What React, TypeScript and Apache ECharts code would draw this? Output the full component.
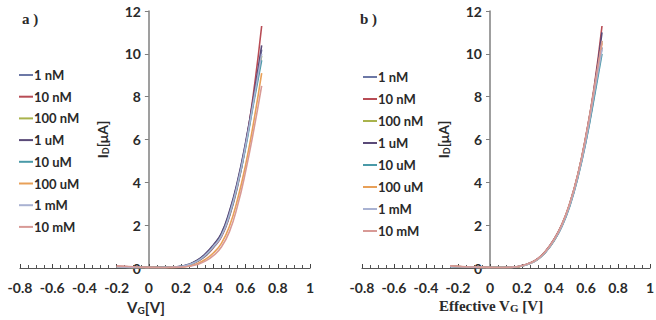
import React, { useEffect, useRef } from "react";
import * as echarts from "echarts";

const seriesNames = ["1 nM", "10 nM", "100 nM", "1 uM", "10 uM", "100 uM", "1 mM", "10 mM"];
const seriesColors = ["#6c78a6", "#b84c55", "#a9b34c", "#5a4a78", "#4a9aa8", "#e8a058", "#a9b2d2", "#d89a96"];

// Panel a: gate voltage V_G [V]
const vgA = [-0.2, -0.1, 0, 0.1, 0.2, 0.25, 0.3, 0.35, 0.4, 0.45, 0.5, 0.55, 0.6, 0.65, 0.7];
const idA_1nM = [0.05, 0.03, 0.02, 0.03, 0.08, 0.18, 0.35, 0.65, 1.05, 1.6, 2.6, 4.0, 5.8, 7.9, 10.2];
const idA_10nM = [0.08, 0.05, 0.03, 0.03, 0.06, 0.14, 0.3, 0.55, 0.95, 1.45, 2.4, 3.8, 5.7, 8.2, 11.3];
const idA_100nM = [0.05, 0.03, 0.02, 0.03, 0.07, 0.16, 0.33, 0.6, 1.0, 1.55, 2.5, 3.9, 5.7, 7.8, 9.9];
const idA_1uM = [0.05, 0.03, 0.02, 0.03, 0.08, 0.18, 0.36, 0.66, 1.08, 1.62, 2.65, 4.05, 5.85, 8.0, 10.4];
const idA_10uM = [0.04, 0.03, 0.02, 0.03, 0.07, 0.15, 0.32, 0.58, 0.98, 1.5, 2.45, 3.85, 5.6, 7.7, 9.7];
const idA_100uM = [0.05, 0.03, 0.02, 0.02, 0.05, 0.1, 0.2, 0.4, 0.7, 1.15, 1.95, 3.2, 4.8, 6.8, 9.1];
const idA_1mM = [0.05, 0.03, 0.02, 0.03, 0.07, 0.16, 0.32, 0.6, 1.0, 1.5, 2.5, 3.9, 5.7, 7.8, 10.0];
const idA_10mM = [0.1, 0.06, 0.03, 0.02, 0.04, 0.08, 0.16, 0.32, 0.58, 0.98, 1.7, 2.9, 4.5, 6.4, 8.5];

// Panel b: effective gate voltage [V]
const vgB = [-0.25, -0.15, -0.05, 0.05, 0.15, 0.2, 0.25, 0.3, 0.35, 0.4, 0.45, 0.5, 0.55, 0.6, 0.65, 0.7];
const idB_1nM = [0.07, 0.05, 0.03, 0.02, 0.04, 0.1, 0.22, 0.42, 0.77, 1.28, 1.97, 2.95, 4.28, 5.95, 8.0, 10.3];
const idB_10nM = [0.09, 0.05, 0.03, 0.02, 0.04, 0.11, 0.24, 0.45, 0.82, 1.35, 2.05, 3.05, 4.4, 6.2, 8.4, 11.3];
const idB_100nM = [0.08, 0.05, 0.03, 0.02, 0.04, 0.1, 0.22, 0.42, 0.78, 1.3, 2.0, 3.0, 4.35, 6.1, 8.2, 10.6];
const idB_1uM = [0.08, 0.05, 0.03, 0.02, 0.04, 0.11, 0.23, 0.44, 0.8, 1.33, 2.03, 3.03, 4.38, 6.15, 8.3, 11.0];
const idB_10uM = [0.07, 0.04, 0.03, 0.02, 0.04, 0.1, 0.21, 0.41, 0.76, 1.27, 1.95, 2.92, 4.25, 5.9, 7.9, 10.0];
const idB_100uM = [0.08, 0.05, 0.03, 0.02, 0.04, 0.1, 0.22, 0.43, 0.79, 1.31, 2.02, 3.02, 4.37, 6.12, 8.25, 10.5];
const idB_1mM = [0.07, 0.05, 0.03, 0.02, 0.04, 0.1, 0.21, 0.41, 0.77, 1.29, 1.98, 2.97, 4.3, 6.0, 8.1, 10.2];
const idB_10mM = [0.1, 0.06, 0.04, 0.02, 0.05, 0.11, 0.23, 0.44, 0.8, 1.33, 2.04, 3.05, 4.4, 6.18, 8.3, 10.6];

const yTicks = { min: 0, max: 12, interval: 2 };
const xTicks = { min: -0.8, max: 1, interval: 0.2 };

const panelA = [idA_1nM, idA_10nM, idA_100nM, idA_1uM, idA_10uM, idA_100uM, idA_1mM, idA_10mM];
const panelB = [idB_1nM, idB_10nM, idB_100nM, idB_1uM, idB_10uM, idB_100uM, idB_1mM, idB_10mM];

const sansFont = "Lato, 'Liberation Sans', sans-serif";
const serifFont = "'Liberation Serif', 'DejaVu Serif', serif";

const gridA = { left: 20, top: 11, width: 290, height: 257 };
const gridB = { left: 362, top: 11, width: 288, height: 257 };

function makeXAxis(gridIndex: number, name: string, rich: any, fontFamily: string, padRight: number) {
  return {
    type: "value",
    gridIndex,
    min: xTicks.min,
    max: xTicks.max,
    interval: xTicks.interval,
    name,
    nameLocation: "middle",
    nameGap: 30,
    nameTextStyle: { rich, padding: [0, padRight, 0, 0], fontFamily },
    axisLine: { show: true, onZero: false, lineStyle: { color: "#555", width: 1.2 } },
    axisTick: { show: true, inside: true, length: 4, lineStyle: { color: "#444" } },
    minorTick: { show: true, splitNumber: 4, length: 3, lineStyle: { color: "#555" } },
    splitLine: { show: false },
    axisLabel: {
      color: "#2a2a2a",
      fontSize: 14,
      fontWeight: "bold",
      fontFamily: sansFont,
      margin: 12,
      formatter: (v: number) => String(Math.round(v * 10) / 10),
    },
  };
}

function makeYAxis(gridIndex: number, gridWidth: number) {
  // place the vertical axis where V = 0 on the horizontal axis
  const zeroOffset = ((0 - xTicks.min) / (xTicks.max - xTicks.min)) * gridWidth;
  return {
    type: "value",
    gridIndex,
    min: yTicks.min,
    max: yTicks.max,
    interval: yTicks.interval,
    offset: -zeroOffset,
    name: "I{sub|D}[μA]",
    nameLocation: "middle",
    nameGap: 39,
    nameRotate: 90,
    nameTextStyle: {
      rich: {
        sub: { fontSize: 9, fontWeight: "bold", fontFamily: sansFont, color: "#2a2a2a", padding: [6, 0, 0, 0] },
      },
      fontSize: 14,
      fontWeight: "bold",
      fontFamily: sansFont,
      color: "#2a2a2a",
    },
    axisLine: { show: true, onZero: false, lineStyle: { color: "#7f7f7f", width: 1.5 } },
    axisTick: { show: true, length: 4, lineStyle: { color: "#7f7f7f" } },
    splitLine: { show: false },
    axisLabel: { color: "#2a2a2a", fontSize: 14, fontWeight: "bold", fontFamily: sansFont, margin: 8 },
  };
}

function buildSeries(xs: number[], panel: number[][], idx: number) {
  return panel.map((ys, i) => ({
    name: seriesNames[i],
    type: "line",
    xAxisIndex: idx,
    yAxisIndex: idx,
    smooth: true,
    showSymbol: false,
    color: seriesColors[i],
    lineStyle: { width: 1.6, color: seriesColors[i] },
    data: xs.map((x, k) => [x, ys[k]]),
  }));
}

function legendOf(left: number, top: number, gap: number) {
  return {
    orient: "vertical",
    left,
    top,
    itemWidth: 14,
    itemHeight: 2,
    itemGap: gap,
    icon: "rect",
    data: seriesNames,
    textStyle: { color: "#2a2a2a", fontSize: 13, fontWeight: "bold", fontFamily: sansFont, lineHeight: 14, padding: [0, 0, 0, -4] },
  };
}

export default function App() {
  const ref = useRef<HTMLDivElement>(null);
  useEffect(() => {
    document.body.style.margin = "0";
    if (!ref.current) return;
    const chart = echarts.init(ref.current, null, { renderer: "svg" });
    const richA = {
      v: { fontSize: 15, fontWeight: "bold", fontFamily: sansFont, color: "#2a2a2a" },
      s: { fontSize: 10, fontWeight: "bold", fontFamily: sansFont, color: "#2a2a2a", padding: [7, 0, 0, 0] },
    };
    const richB = {
      v: { fontSize: 15, fontWeight: "bold", fontFamily: serifFont, color: "#2a2a2a" },
      s: { fontSize: 11, fontWeight: "bold", fontFamily: serifFont, color: "#2a2a2a", padding: [3, 0, 0, 0] },
    };
    chart.setOption({
      animation: false,
      backgroundColor: "#fff",
      title: [
        { text: "a )", left: 17, top: 6, textStyle: { fontSize: 15, fontWeight: "bold", fontFamily: serifFont, color: "#2a2a2a" } },
        { text: "b )", left: 355, top: 6, textStyle: { fontSize: 15, fontWeight: "bold", fontFamily: serifFont, color: "#2a2a2a" } },
      ],
      legend: [legendOf(14, 63, 7.7), legendOf(358, 65, 8)],
      grid: [
        { ...gridA, containLabel: false, outerBoundsMode: "none" },
        { ...gridB, containLabel: false, outerBoundsMode: "none" },
      ],
      xAxis: [
        makeXAxis(0, "{v|V}{s|G}{v|[V]}", richA, sansFont, 38),
        makeXAxis(1, "{v|Effective V}{s|G}{v| [V]}", richB, serifFont, 30),
      ],
      yAxis: [makeYAxis(0, gridA.width), makeYAxis(1, gridB.width)],
      series: [...buildSeries(vgA, panelA, 0), ...buildSeries(vgB, panelB, 1)],
    });
    return () => chart.dispose();
  }, []);
  return <div ref={ref} style={{ width: 656, height: 320 }} />;
}
